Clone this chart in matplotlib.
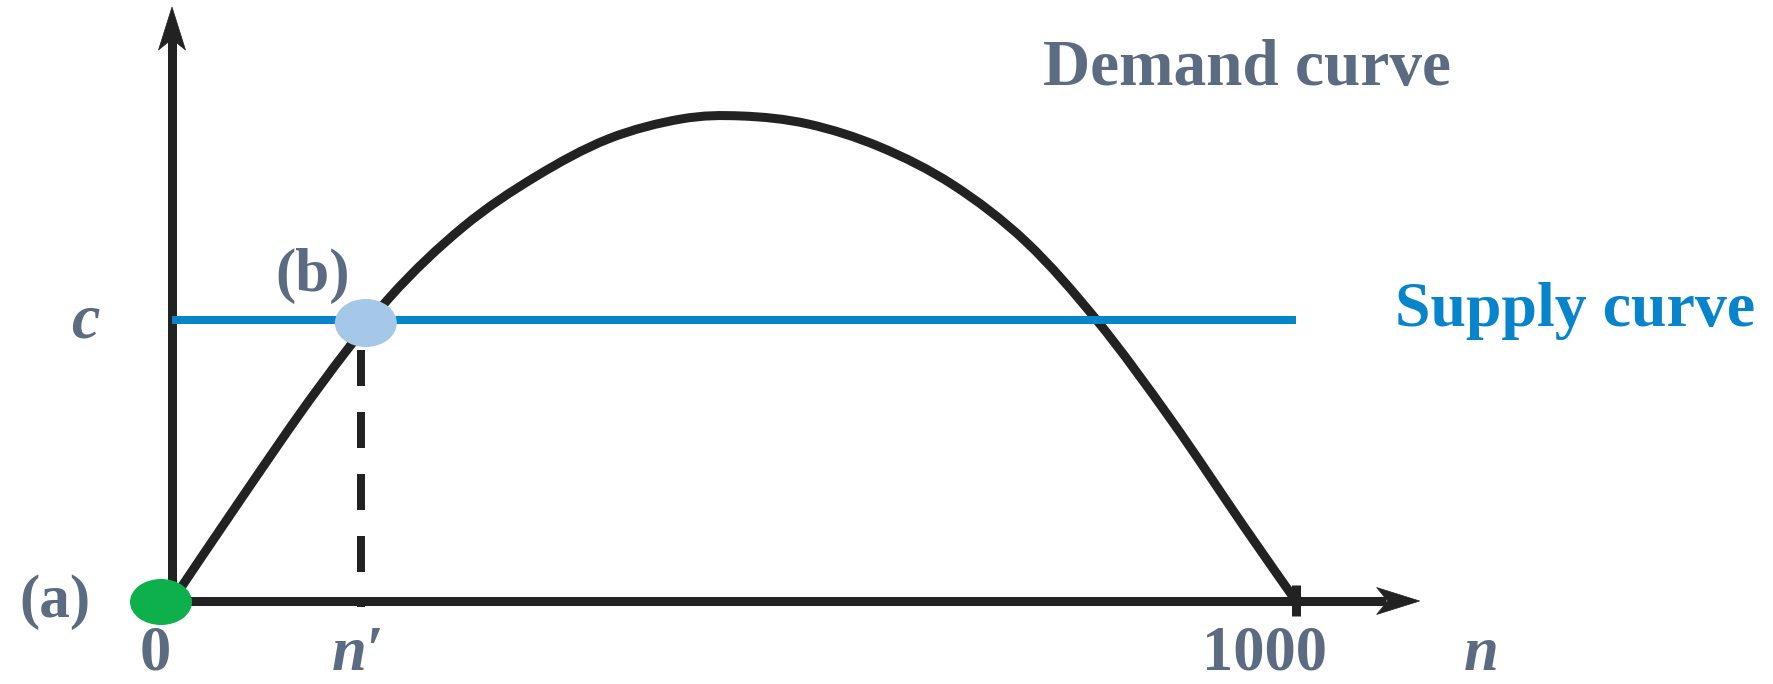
import numpy as np
import matplotlib
matplotlib.use("Agg")
import matplotlib.pyplot as plt
from matplotlib.patches import Ellipse, Polygon, PathPatch
from matplotlib.path import Path
from matplotlib.transforms import Affine2D, offset_copy

# ---------------- data ----------------
n_values = [0, 65, 129, 194, 259, 323, 388, 453, 507, 566, 630, 695, 760,
            824, 889, 954, 1000]
demand = [0, 108, 211, 304, 374, 424, 462, 482, 485, 477, 454, 416, 359,
          279, 181, 74, 0]
supply_n = [0, 1000]
c_level = 281            # supply level "c"
n_prime = 168            # intersection (b)
point_a = (0, 0)
n_max = 1000

tick_labels = ["0", "n\u2032", "1000"]
tick_pos = [0, n_prime, n_max]

# ---------------- style ----------------
INK = "#222222"
SLATE = "#5a6b82"
BLUE = "#0784cc"
LIGHTBLUE = "#a6c8e8"
GREEN = "#0db04b"
FONT = "Liberation Serif"

W, H, DPI = 1773, 684, 100
fig = plt.figure(figsize=(W / DPI, H / DPI), dpi=DPI)
ax = fig.add_axes([0, 0, 1, 1])
px_per_n = 1.124
ax.set_xlim(-172 / px_per_n, (W - 172) / px_per_n)
ax.set_ylim(-(H - 601), 601)
ax.axis("off")

y_axis_top = 594
x_axis_end = 1110
pt = 72 / DPI  # points per pixel
lw_axis = 9 * pt

# axes lines
ax.plot([0, 0], [-5, y_axis_top - 30], color=INK, lw=lw_axis, solid_capstyle="butt", zorder=2)
ax.plot([-4, x_axis_end - 30], [0, 0], color=INK, lw=lw_axis, solid_capstyle="butt", zorder=2)

# arrow heads (stealth style) in pixel units
def arrow_head(tip, angle):
    x0, y0 = ax.transData.transform(tip)
    shape = [(0, 0), (-43, 13.5), (-32, 0), (-43, -13.5)]
    tr = Affine2D().rotate_deg(angle).translate(x0, y0)
    p = Polygon(shape, closed=True, facecolor=INK, edgecolor=INK, lw=0.5,
                transform=tr, zorder=3)
    ax.add_artist(p)

arrow_head((0, y_axis_top), 90)
arrow_head((x_axis_end, 0), 0)

# tick at n = 1000
ax.plot([n_max, n_max], [-15, 16], color=INK, lw=lw_axis, solid_capstyle="butt", zorder=3)

# demand curve: smooth Bezier path through the read points (Catmull-Rom style)
P = np.column_stack([n_values, demand]).astype(float)
verts = [tuple(P[0])]
codes = [Path.MOVETO]
m = len(P)
for i in range(m - 1):
    p_prev = P[i - 1] if i > 0 else P[i]
    p_next2 = P[i + 2] if i + 2 < m else P[i + 1]
    c1 = P[i] + (P[i + 1] - p_prev) / 6.0
    c2 = P[i + 1] - (p_next2 - P[i]) / 6.0
    verts += [tuple(c1), tuple(c2), tuple(P[i + 1])]
    codes += [Path.CURVE4] * 3
curve = PathPatch(Path(verts, codes), facecolor="none", edgecolor=INK, lw=9 * pt,
                  joinstyle="round", capstyle="round", zorder=4)
ax.add_patch(curve)

# supply line
ax.plot(supply_n, [c_level, c_level], color=BLUE, lw=8 * pt, solid_capstyle="butt", zorder=5)

# dashed drop line
ax.plot([n_prime, n_prime], [c_level, -6], color=INK, lw=8 * pt,
        linestyle=(4.0, (4.5, 3.25)), dash_capstyle="butt", zorder=3)

# points (a) and (b)
ea = Ellipse(point_a, 62 / px_per_n, 46, facecolor=GREEN, edgecolor="none", zorder=6,
             transform=offset_copy(ax.transData, fig, x=-11, y=-1, units="dots"))
ax.add_patch(ea)
eb = Ellipse((n_prime, c_level), 62 / px_per_n, 48, facecolor=LIGHTBLUE, edgecolor="none",
             zorder=6, transform=offset_copy(ax.transData, fig, x=5, y=-3, units="dots"))
ax.add_patch(eb)

# texts
ax.text(775, 516, "Demand curve", color=SLATE, fontsize=47, fontweight="bold",
        family=FONT, ha="left", va="baseline")
ax.text(1088, 275, "Supply curve", color=BLUE, fontsize=46, fontweight="bold",
        family=FONT, ha="left", va="baseline")
ax.text(-77, 264, "c", color=SLATE, fontsize=46, fontweight="bold", style="italic",
        family=FONT, ha="center", va="baseline")
ax.text(125, 310, "(b)", color=SLATE, fontsize=44, fontweight="bold",
        family=FONT, ha="center", va="baseline")
ax.text(-104, -16, "(a)", color=SLATE, fontsize=44, fontweight="bold",
        family=FONT, ha="center", va="baseline")
tick_offsets = [-15, -3, -28]
for pos, lab, off in zip(tick_pos, tick_labels, tick_offsets):
    italic = "n" in lab
    ax.text(pos + off, -69, lab, color=SLATE, fontsize=45, fontweight="bold",
            style="italic" if italic else "normal", family=FONT,
            ha="center", va="baseline")
ax.text(1165, -69, "n", color=SLATE, fontsize=45, fontweight="bold", style="italic",
        family=FONT, ha="center", va="baseline")

fig.savefig("out.png", dpi=DPI)
